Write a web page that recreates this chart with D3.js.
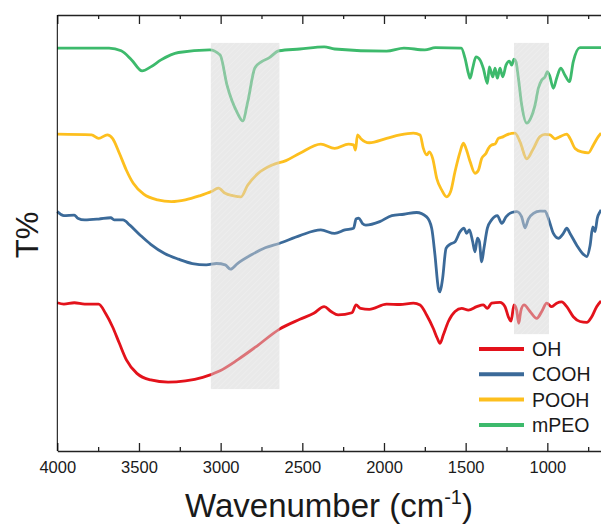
<!DOCTYPE html>
<html>
<head>
<script src="https://d3js.org/d3.v7.min.js"></script>
<style>
body { margin: 0; background: #fff; }
svg text { font-family: "Liberation Sans", Arial, sans-serif; fill: #1a1a1a; }
</style>
</head>
<body>
<svg width="601" height="525"></svg>
<script>
// spectra as [wavenumber, T%] pairs
var mPEO = [[4000,92.4],[3683,92.4],[3609,91.8],[3545,89.7],[3481,87.2],[3428,88.1],[3365,89.7],[3258,91.4],
  [3067,92.0],[3003,90.8],[2961,83.9],[2897,77.5],[2865,75.7],[2834,80.1],[2791,87.8],[2749,89.3],[2706,90.1],
  [2642,91.8],[2515,92.2],[2366,92.7],[2302,92.2],[1984,91.7],[1878,92.4],[1750,92.0],[1686,92.5],[1527,92.4],
  [1504,90.1],[1483,86.6],[1473,85.5],[1457,87.8],[1437,90.4],[1412,89.7],[1392,87.8],[1367,84.3],[1355,88.1],
  [1334,85.8],[1320,87.8],[1306,85.5],[1290,87.8],[1273,85.8],[1253,88.5],[1232,89.4],[1218,88.5],[1204,89.9],
  [1192,89.3],[1177,85.5],[1157,79.4],[1126,75.2],[1102,76.3],[1075,79.4],[1055,83.2],[1034,85.1],[1014,85.8],
  [1000,87.0],[987,86.2],[963,83.2],[943,85.5],[918,87.8],[892,86.2],[865,84.7],[841,89.3],[800,92.5],[671,92.5]];

var POOH = [[4000,72.7],[3790,72.5],[3747,71.7],[3694,72.5],[3662,71.7],[3620,68.3],[3577,64.4],[3535,61.4],
  [3471,58.9],[3386,57.6],[3301,57.2],[3216,57.6],[3131,58.5],[3057,59.5],[3014,60.3],[2972,59.1],[2919,58.5],
  [2876,58.3],[2834,61.0],[2770,63.7],[2685,65.6],[2600,66.6],[2515,68.3],[2387,70.4],[2302,69.4],[2217,70.4],
  [2186,70.2],[2175,69.0],[2162,72.5],[2143,71.7],[2090,70.7],[1984,71.7],[1902,72.5],[1820,72.9],[1779,72.5],
  [1759,69.4],[1739,67.9],[1722,68.6],[1702,67.1],[1677,62.5],[1647,59.9],[1616,58.3],[1592,59.5],[1565,64.1],
  [1534,68.6],[1514,70.6],[1498,69.4],[1473,66.4],[1443,63.7],[1422,64.4],[1402,67.1],[1375,68.3],[1361,69.4],
  [1341,70.2],[1320,70.4],[1300,71.7],[1269,72.1],[1249,72.5],[1198,72.9],[1167,70.9],[1126,67.0],[1085,69.4],
  [1045,72.1],[1014,72.6],[983,72.5],[953,71.6],[922,72.1],[881,72.7],[861,71.7],[830,69.4],[789,68.6],
  [749,68.4],[718,70.2],[688,72.1],[671,72.9]];

var COOH = [[4000,54.9],[3960,54.0],[3896,54.1],[3875,53.4],[3832,53.0],[3747,53.2],[3673,53.5],[3652,53.0],
  [3598,53.0],[3556,51.8],[3492,49.5],[3428,47.4],[3343,45.3],[3258,44.0],[3173,43.0],[3088,42.7],[3025,43.0],
  [2972,42.7],[2940,41.7],[2897,43.0],[2812,45.0],[2727,46.6],[2642,47.6],[2515,49.4],[2387,50.7],[2302,49.9],
  [2239,50.7],[2186,51.1],[2171,53.2],[2154,53.4],[2132,52.2],[2111,51.8],[2026,52.6],[1952,54.0],[1878,54.3],
  [1800,54.7],[1739,53.7],[1708,51.1],[1688,45.0],[1667,37.3],[1657,36.5],[1641,39.6],[1620,46.5],[1596,47.4],
  [1565,48.0],[1534,50.3],[1510,51.1],[1494,49.9],[1477,50.7],[1457,48.0],[1443,45.7],[1428,48.8],[1416,48.0],
  [1402,43.4],[1388,46.5],[1367,51.1],[1341,53.0],[1306,54.0],[1279,52.2],[1253,53.7],[1218,54.7],[1187,54.9],
  [1157,53.7],[1137,51.2],[1116,53.2],[1085,54.5],[1045,55.0],[1014,55.0],[994,53.4],[963,49.9],[932,48.8],
  [902,49.9],[881,51.1],[861,49.9],[820,47.2],[779,45.1],[759,44.6],[738,47.2],[722,51.4],[708,50.3],[694,53.4],
  [677,54.9],[671,55.3]];

var OH = [[4000,34.0],[3960,33.7],[3896,34.0],[3832,33.7],[3747,33.7],[3705,31.6],[3662,28.5],[3620,24.7],
  [3577,20.9],[3513,17.8],[3428,16.3],[3322,15.8],[3216,16.1],[3110,16.9],[3004,18.4],[2897,20.9],[2770,24.3],
  [2642,27.9],[2515,30.2],[2430,31.6],[2366,33.1],[2324,32.0],[2281,31.2],[2196,31.7],[2171,33.5],[2143,32.7],
  [2090,32.5],[1984,33.7],[1902,33.6],[1820,33.9],[1779,33.5],[1739,31.2],[1698,28.1],[1673,25.8],[1657,24.7],
  [1637,26.6],[1606,29.7],[1565,32.0],[1524,32.7],[1483,32.3],[1432,33.1],[1392,33.5],[1367,32.7],[1341,33.9],
  [1290,34.1],[1259,33.1],[1239,30.8],[1222,29.8],[1204,33.5],[1188,32.3],[1175,29.3],[1163,32.0],[1143,33.5],
  [1106,32.0],[1065,30.4],[1034,32.0],[1004,33.9],[973,33.1],[943,33.9],[912,34.2],[881,33.1],[841,30.8],
  [800,29.7],[759,29.5],[728,30.8],[698,33.1],[671,34.4]];

var seriesNames = ["OH", "COOH", "POOH", "mPEO"];
var seriesColors = ["#e3121b", "#3b6a99", "#fdbf1e", "#3dba6c"];
var seriesData = [OH, COOH, POOH, mPEO];

// highlighted bands: [from, to, top T, bottom T]
var bands = [[3060, 2640, 93.6, 14.2], [1204, 990, 93.6, 26.8]];

var majorTicks = [4000, 3500, 3000, 2500, 2000, 1500, 1000];
var minorTicks = [3750, 3250, 2750, 2250, 1750, 1250, 750];

var svg = d3.select("svg");
var x = d3.scaleLinear().domain([4000, 650]).range([57.3, 604.5]);
var y = d3.scaleLinear().domain([0, 100]).range([451, 15]);

var defs = svg.append("defs");
var pat = defs.append("pattern")
    .attr("id", "hatch")
    .attr("width", 4).attr("height", 4)
    .attr("patternUnits", "userSpaceOnUse")
    .attr("patternTransform", "rotate(45)");
pat.append("rect").attr("width", 4).attr("height", 4).attr("fill", "#d2d2d2");
pat.append("line").attr("x1", 0).attr("y1", 0).attr("x2", 0).attr("y2", 4)
    .attr("stroke", "#ffffff").attr("stroke-width", 1.2).attr("stroke-opacity", 0.35);

// spectra
var line = d3.line()
    .x(function(d) { return x(d[0]); })
    .y(function(d) { return y(d[1]); })
    .curve(d3.curveMonotoneX);

svg.append("g").selectAll("path")
    .data(seriesData)
    .enter().append("path")
    .attr("d", line)
    .attr("fill", "none")
    .attr("stroke", function(d, i) { return seriesColors[i]; })
    .attr("stroke-width", 2.8)
    .attr("stroke-linejoin", "round");

// grey bands drawn over the lines
svg.append("g").selectAll("rect")
    .data(bands)
    .enter().append("rect")
    .attr("x", function(d) { return x(d[0]); })
    .attr("width", function(d) { return x(d[1]) - x(d[0]); })
    .attr("y", function(d) { return y(d[2]); })
    .attr("height", function(d) { return y(d[3]) - y(d[2]); })
    .attr("fill", "url(#hatch)")
    .attr("opacity", 0.5);

// axes
var bottom = svg.append("g")
    .attr("transform", "translate(0," + y(0) + ")")
    .call(d3.axisBottom(x).tickValues(majorTicks).tickFormat(d3.format("d"))
        .tickSizeInner(-8).tickSizeOuter(0).tickPadding(10));
bottom.selectAll("text").style("font-size", "16.5px").attr("fill", "#1a1a1a");

svg.append("g")
    .attr("transform", "translate(0," + y(0) + ")")
    .call(d3.axisBottom(x).tickValues(minorTicks).tickSize(-4).tickFormat(""))
    .select(".domain").remove();

svg.append("g")
    .attr("transform", "translate(0," + y(100) + ")")
    .call(d3.axisTop(x).tickValues(majorTicks).tickSizeInner(-9).tickSizeOuter(0).tickFormat(""));

svg.append("g")
    .attr("transform", "translate(0," + y(100) + ")")
    .call(d3.axisTop(x).tickValues(minorTicks).tickSize(-4).tickFormat(""))
    .select(".domain").remove();

svg.append("line")
    .attr("x1", x(4000)).attr("x2", x(4000))
    .attr("y1", y(100)).attr("y2", y(0))
    .attr("stroke", "#000");

svg.selectAll(".domain, .tick line").attr("stroke", "#222").attr("stroke-width", 1.3);

// axis titles
var xt = svg.append("text")
    .attr("x", 329).attr("y", 517)
    .attr("text-anchor", "middle")
    .style("font-size", "33px");
xt.append("tspan").text("Wavenumber (cm");
xt.append("tspan").attr("dy", -13).style("font-size", "20px").text("-1");
xt.append("tspan").attr("dy", 13).text(")");

svg.append("text")
    .attr("transform", "translate(38,235)rotate(-90)")
    .attr("text-anchor", "middle")
    .style("font-size", "31px")
    .text("T%");

// legend
var legend = svg.append("g").selectAll("g")
    .data(seriesNames)
    .enter().append("g")
    .attr("transform", function(d, i) { return "translate(479," + (349 + i * 25.3) + ")"; });
legend.append("line")
    .attr("x1", 0).attr("x2", 45)
    .attr("stroke", function(d, i) { return seriesColors[i]; })
    .attr("stroke-width", 4);
legend.append("text")
    .attr("x", 53).attr("dy", "0.36em")
    .style("font-size", "19.5px")
    .text(function(d) { return d; });
</script>
</body>
</html>
